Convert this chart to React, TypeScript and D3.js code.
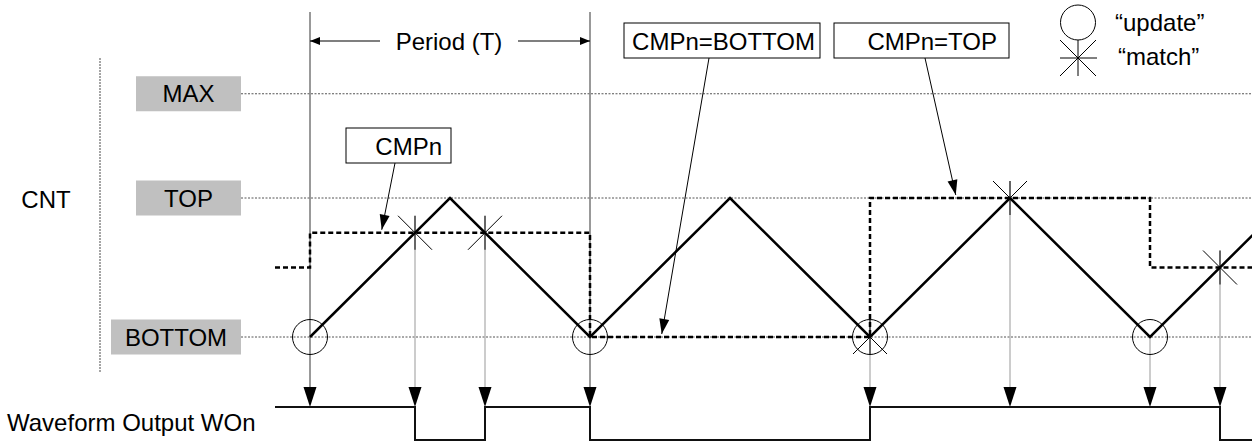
import React from 'react';
import * as d3 from 'd3';

const W = 1252;
const H = 442;
const FONT = "'Liberation Sans', Arial, sans-serif";

// counter levels
const levelNames = ['MAX', 'TOP', 'BOTTOM'];
const levelValues = [14, 8, 0];

// counter (dual slope), time in counts
const cntT = [0, 8, 16, 24, 32, 40, 48, 54];
const cntV = [0, 8, 0, 8, 0, 8, 0, 6];

// compare value CMPn (step after)
const cmpT = [-2, 0, 16, 32, 48, 54];
const cmpV = [4, 6, 0, 8, 4, 4];

// "update" and "match" events
const updateT = [0, 16, 32, 48];
const matchT = [6, 10, 32, 40, 52];
const matchV = [6, 6, 0, 8, 4];
const periodT = [0, 16];

// waveform output WOn
const woT = [-2, 6, 10, 16, 32, 52, 54];
const woV = [1, 0, 1, 0, 1, 0, 0];

// annotation labels and where they point
const noteLabels = ['CMPn', 'CMPn=BOTTOM', 'CMPn=TOP'];
const noteTargetT = [4.1, 20.1, 36.9];
const noteTargetV = [6, 0, 8];

const arrowHead = (x1: number, y1: number, x2: number, y2: number, len: number, hw: number) => {
    const a = Math.atan2(y2 - y1, x2 - x1);
    const bx = x2 - len * Math.cos(a);
    const by = y2 - len * Math.sin(a);
    const px = -Math.sin(a) * hw;
    const py = Math.cos(a) * hw;
    return `M${x2},${y2}L${bx + px},${by + py}L${bx - px},${by - py}Z`;
};

const App: React.FC = () => {
    const x = d3.scaleLinear().domain([0, 16]).range([310, 590]);
    const y = d3.scaleLinear().domain([0, 8]).range([337, 198]);
    const yw = d3.scaleLinear().domain([0, 1]).range([440, 407]);

    const cntLine = d3.line<number>()
        .x((d, i) => x(cntT[i]))
        .y(d => y(d));
    const cmpLine = d3.line<number>()
        .x((d, i) => x(cmpT[i]))
        .y(d => y(d))
        .curve(d3.curveStepAfter);
    const woLine = d3.line<number>()
        .x((d, i) => x(woT[i]))
        .y(d => yw(d))
        .curve(d3.curveStepAfter);

    const events = Array.from(new Set([...updateT, ...matchT])).sort((a, b) => a - b);
    const arrowTop = yw(1) - 20;
    const eventStart = (t: number) => {
        if (periodT.includes(t)) return 12;
        const mi = matchT.indexOf(t);
        if (mi >= 0) return y(matchV[mi]) - 17;
        return y(0);
    };

    const noteBoxes = [
        { x: 346, y: 128, w: 105, from: [395, 163], anchorX: 442 },
        { x: 624, y: 23, w: 196, from: [709, 58], anchorX: 815 },
        { x: 834, y: 23, w: 175, from: [925, 58], anchorX: 997 },
    ];

    return (
        <svg width={W} height={H} style={{ position: 'absolute', left: 0, top: 0, background: '#fff' }}
            fontFamily={FONT}>
            {/* left bracket */}
            <line x1={100} x2={100} y1={58} y2={372} stroke="#888" strokeWidth={1.5} strokeDasharray="2 1" />
            <text x={46} y={208} fontSize={24} textAnchor="middle" fill="#000">CNT</text>

            {/* level boxes and dotted gridlines */}
            {levelNames.map((name, i) => {
                const ly = y(levelValues[i]);
                const bw = name === 'BOTTOM' ? 130 : 105;
                return (
                    <g key={name}>
                        <line x1={241} x2={W} y1={ly} y2={ly} stroke="#555" strokeWidth={1} strokeDasharray="2 1.5" />
                        <rect x={241 - bw} y={ly - 17.5} width={bw} height={35} fill="#c0c0c0" />
                        <text x={241 - bw / 2} y={ly + 8.6} fontSize={24} textAnchor="middle" fill="#000">{name}</text>
                    </g>
                );
            })}

            {/* vertical event lines */}
            {events.map(t => (
                <line key={`v${t}`} x1={x(t)} x2={x(t)} y1={eventStart(t)} y2={arrowTop}
                    stroke={periodT.includes(t) ? '#777' : '#999'} strokeWidth={periodT.includes(t) ? 1.5 : 1} />
            ))}
            {events.map(t => (
                <path key={`a${t}`} d={arrowHead(x(t), arrowTop - 5, x(t), yw(1), 20, 6.5)} fill="#000" />
            ))}

            {/* period arrow */}
            <line x1={x(periodT[0])} x2={380} y1={41} y2={41} stroke="#000" strokeWidth={1.2} />
            <path d={arrowHead(380, 41, x(periodT[0]), 41, 10, 4)} fill="#000" />
            <line x1={518} x2={x(periodT[1])} y1={41} y2={41} stroke="#000" strokeWidth={1.2} />
            <path d={arrowHead(518, 41, x(periodT[1]), 41, 10, 4)} fill="#000" />
            <text x={449} y={50} fontSize={24} textAnchor="middle" fill="#000">Period (T)</text>

            {/* compare value */}
            <path d={cmpLine(cmpV) || ''} fill="none" stroke="#000" strokeWidth={2.5} strokeDasharray="5 3" />

            {/* counter */}
            <path d={cntLine(cntV) || ''} fill="none" stroke="#000" strokeWidth={2.5} strokeLinejoin="miter" />

            {/* update circles */}
            {updateT.map(t => (
                <circle key={`u${t}`} cx={x(t)} cy={y(0)} r={17.5} fill="none" stroke="#000" strokeWidth={1} />
            ))}

            {/* match stars */}
            {matchT.map((t, i) => {
                const cx = x(t);
                const cy = y(matchV[i]);
                return (
                    <g key={`m${t}`} stroke="#000" strokeWidth={1}>
                        <line x1={cx - 17} y1={cy - 17} x2={cx + 17} y2={cy + 17} />
                        <line x1={cx - 17} y1={cy + 17} x2={cx + 17} y2={cy - 17} />
                        <line x1={cx} y1={cy - 17} x2={cx} y2={cy + 17} />
                    </g>
                );
            })}

            {/* annotations */}
            {noteLabels.map((label, i) => {
                const b = noteBoxes[i];
                const tx = x(noteTargetT[i]);
                const ty = y(noteTargetV[i]) - 3;
                return (
                    <g key={label}>
                        <rect x={b.x} y={b.y} width={b.w} height={35} fill="#fff" stroke="#000" strokeWidth={1} />
                        <text x={b.anchorX} y={b.y + 27} fontSize={24} textAnchor="end" fill="#000">{label}</text>
                        <line x1={b.from[0]} y1={b.from[1]} x2={tx} y2={ty} stroke="#000" strokeWidth={1} />
                        <path d={arrowHead(b.from[0], b.from[1], tx, ty, 15, 5)} fill="#000" />
                    </g>
                );
            })}

            {/* legend */}
            <circle cx={1078} cy={22.5} r={17.5} fill="none" stroke="#000" strokeWidth={1} />
            <g stroke="#000" strokeWidth={1}>
                <line x1={1078} y1={40} x2={1078} y2={76} />
                <line x1={1060} y1={58} x2={1097} y2={58} />
                <line x1={1060} y1={40} x2={1096} y2={76} />
                <line x1={1060} y1={76} x2={1096} y2={40} />
            </g>
            <text x={1115} y={31} fontSize={24} fill="#000">“update”</text>
            <text x={1118} y={65} fontSize={24} fill="#000">“match”</text>

            {/* waveform output */}
            <path d={woLine(woV) || ''} fill="none" stroke="#111" strokeWidth={2} />
            <text x={7} y={431} fontSize={24} fill="#000">Waveform Output WOn</text>
        </svg>
    );
};

export default App;
